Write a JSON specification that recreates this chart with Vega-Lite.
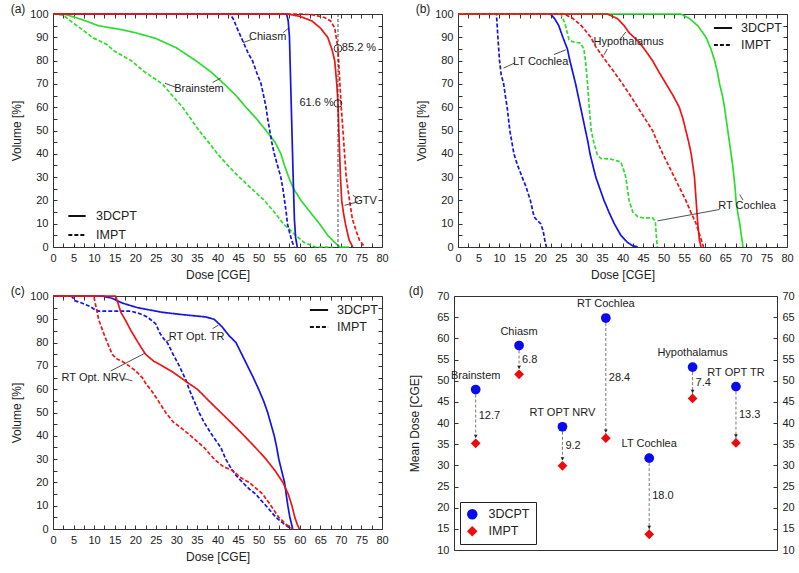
{
"$schema":"https://vega.github.io/schema/vega-lite/v6.json",
"padding":{"left":10,"top":2,"right":2,"bottom":2},
"background":"white",
"config":{
 "font":"Liberation Sans",
 "view":{"stroke":"#333","strokeWidth":1},
 "axis":{"domain":false,"grid":false,"tickSize":4,"offset":-4,"tickColor":"#333","tickWidth":1,"labelFontSize":11,"labelColor":"#222","titleFontSize":12,"titleFontWeight":"normal","titleColor":"#222","labelPadding":5,"titlePadding":6,"labelFlush":false},
 "title":{"anchor":"start","frame":"bounds","fontSize":12,"fontWeight":"normal","baseline":"middle","offset":0,"dy":12,"color":"#222"},
 "legend":{"labelColor":"#222","labelFontSize":12.5,"title":null},
 "text":{"fontSize":11,"color":"#222"}
},
"resolve":{"scale":{"color":"independent","strokeDash":"independent","shape":"independent"},"legend":{"color":"independent","strokeDash":"independent","shape":"independent"}},
"datasets":{
"a":[
{"organ":"Brainstem","plan":"3DCPT","dose":0,"vol":100},{"organ":"Brainstem","plan":"3DCPT","dose":3,"vol":99.8},{"organ":"Brainstem","plan":"3DCPT","dose":5.5,"vol":98.5},{"organ":"Brainstem","plan":"3DCPT","dose":8,"vol":97},{"organ":"Brainstem","plan":"3DCPT","dose":11,"vol":95},{"organ":"Brainstem","plan":"3DCPT","dose":16,"vol":93.5},{"organ":"Brainstem","plan":"3DCPT","dose":20,"vol":92},{"organ":"Brainstem","plan":"3DCPT","dose":25,"vol":89.5},{"organ":"Brainstem","plan":"3DCPT","dose":30,"vol":85.5},{"organ":"Brainstem","plan":"3DCPT","dose":34.7,"vol":80},{"organ":"Brainstem","plan":"3DCPT","dose":38.5,"vol":75},{"organ":"Brainstem","plan":"3DCPT","dose":41.6,"vol":70},{"organ":"Brainstem","plan":"3DCPT","dose":44.5,"vol":65},{"organ":"Brainstem","plan":"3DCPT","dose":46.9,"vol":60},{"organ":"Brainstem","plan":"3DCPT","dose":49.5,"vol":55},{"organ":"Brainstem","plan":"3DCPT","dose":51.8,"vol":50},{"organ":"Brainstem","plan":"3DCPT","dose":54,"vol":45},{"organ":"Brainstem","plan":"3DCPT","dose":55.4,"vol":40},{"organ":"Brainstem","plan":"3DCPT","dose":56.3,"vol":35},{"organ":"Brainstem","plan":"3DCPT","dose":57.3,"vol":30},{"organ":"Brainstem","plan":"3DCPT","dose":58.5,"vol":25},{"organ":"Brainstem","plan":"3DCPT","dose":60.3,"vol":20},{"organ":"Brainstem","plan":"3DCPT","dose":62.5,"vol":15},{"organ":"Brainstem","plan":"3DCPT","dose":64.8,"vol":10},{"organ":"Brainstem","plan":"3DCPT","dose":66.8,"vol":5},{"organ":"Brainstem","plan":"3DCPT","dose":68.5,"vol":2},{"organ":"Brainstem","plan":"3DCPT","dose":69.7,"vol":0},{"organ":"Brainstem","plan":"3DCPT","dose":72,"vol":0},
{"organ":"Brainstem","plan":"IMPT","dose":0,"vol":100},{"organ":"Brainstem","plan":"IMPT","dose":2.5,"vol":99.5},{"organ":"Brainstem","plan":"IMPT","dose":5,"vol":96},{"organ":"Brainstem","plan":"IMPT","dose":7,"vol":93.5},{"organ":"Brainstem","plan":"IMPT","dose":9.5,"vol":90},{"organ":"Brainstem","plan":"IMPT","dose":13,"vol":87},{"organ":"Brainstem","plan":"IMPT","dose":15,"vol":84},{"organ":"Brainstem","plan":"IMPT","dose":19,"vol":80},{"organ":"Brainstem","plan":"IMPT","dose":22,"vol":75.5},{"organ":"Brainstem","plan":"IMPT","dose":26.6,"vol":70},{"organ":"Brainstem","plan":"IMPT","dose":29,"vol":65},{"organ":"Brainstem","plan":"IMPT","dose":31.5,"vol":60},{"organ":"Brainstem","plan":"IMPT","dose":33.5,"vol":55},{"organ":"Brainstem","plan":"IMPT","dose":35.5,"vol":50},{"organ":"Brainstem","plan":"IMPT","dose":37.8,"vol":45},{"organ":"Brainstem","plan":"IMPT","dose":40,"vol":40},{"organ":"Brainstem","plan":"IMPT","dose":42.5,"vol":35},{"organ":"Brainstem","plan":"IMPT","dose":45.3,"vol":30},{"organ":"Brainstem","plan":"IMPT","dose":48.3,"vol":25},{"organ":"Brainstem","plan":"IMPT","dose":51.4,"vol":20},{"organ":"Brainstem","plan":"IMPT","dose":53.8,"vol":15},{"organ":"Brainstem","plan":"IMPT","dose":56,"vol":10},{"organ":"Brainstem","plan":"IMPT","dose":59,"vol":5},{"organ":"Brainstem","plan":"IMPT","dose":61,"vol":2},{"organ":"Brainstem","plan":"IMPT","dose":63,"vol":0.5},{"organ":"Brainstem","plan":"IMPT","dose":64,"vol":0},{"organ":"Brainstem","plan":"IMPT","dose":68,"vol":0},
{"organ":"Chiasm","plan":"3DCPT","dose":0,"vol":100},{"organ":"Chiasm","plan":"3DCPT","dose":56.8,"vol":100},{"organ":"Chiasm","plan":"3DCPT","dose":57.2,"vol":97},{"organ":"Chiasm","plan":"3DCPT","dose":57.5,"vol":90},{"organ":"Chiasm","plan":"3DCPT","dose":57.8,"vol":70},{"organ":"Chiasm","plan":"3DCPT","dose":58.1,"vol":50},{"organ":"Chiasm","plan":"3DCPT","dose":58.4,"vol":30},{"organ":"Chiasm","plan":"3DCPT","dose":58.7,"vol":12},{"organ":"Chiasm","plan":"3DCPT","dose":59,"vol":4},{"organ":"Chiasm","plan":"3DCPT","dose":59.4,"vol":0},
{"organ":"Chiasm","plan":"IMPT","dose":0,"vol":100},{"organ":"Chiasm","plan":"IMPT","dose":43,"vol":100},{"organ":"Chiasm","plan":"IMPT","dose":43.8,"vol":98},{"organ":"Chiasm","plan":"IMPT","dose":45,"vol":93},{"organ":"Chiasm","plan":"IMPT","dose":46,"vol":89},{"organ":"Chiasm","plan":"IMPT","dose":47.5,"vol":83},{"organ":"Chiasm","plan":"IMPT","dose":48.5,"vol":80},{"organ":"Chiasm","plan":"IMPT","dose":49.5,"vol":75},{"organ":"Chiasm","plan":"IMPT","dose":50.6,"vol":70},{"organ":"Chiasm","plan":"IMPT","dose":51.2,"vol":65},{"organ":"Chiasm","plan":"IMPT","dose":51.8,"vol":60},{"organ":"Chiasm","plan":"IMPT","dose":52.2,"vol":55},{"organ":"Chiasm","plan":"IMPT","dose":52.7,"vol":50},{"organ":"Chiasm","plan":"IMPT","dose":53.2,"vol":45},{"organ":"Chiasm","plan":"IMPT","dose":53.8,"vol":40},{"organ":"Chiasm","plan":"IMPT","dose":54.6,"vol":35},{"organ":"Chiasm","plan":"IMPT","dose":55.4,"vol":30},{"organ":"Chiasm","plan":"IMPT","dose":55.9,"vol":25},{"organ":"Chiasm","plan":"IMPT","dose":56.3,"vol":20},{"organ":"Chiasm","plan":"IMPT","dose":56.7,"vol":15},{"organ":"Chiasm","plan":"IMPT","dose":57,"vol":10},{"organ":"Chiasm","plan":"IMPT","dose":57.7,"vol":5},{"organ":"Chiasm","plan":"IMPT","dose":58.2,"vol":2},{"organ":"Chiasm","plan":"IMPT","dose":58.7,"vol":0},
{"organ":"GTV","plan":"3DCPT","dose":0,"vol":100},{"organ":"GTV","plan":"3DCPT","dose":57,"vol":100},{"organ":"GTV","plan":"3DCPT","dose":60,"vol":99},{"organ":"GTV","plan":"3DCPT","dose":63,"vol":97},{"organ":"GTV","plan":"3DCPT","dose":65,"vol":94},{"organ":"GTV","plan":"3DCPT","dose":66.8,"vol":90},{"organ":"GTV","plan":"3DCPT","dose":67.8,"vol":85},{"organ":"GTV","plan":"3DCPT","dose":68.5,"vol":80},{"organ":"GTV","plan":"3DCPT","dose":69,"vol":70},{"organ":"GTV","plan":"3DCPT","dose":69.3,"vol":61.6},{"organ":"GTV","plan":"3DCPT","dose":69.5,"vol":50},{"organ":"GTV","plan":"3DCPT","dose":69.7,"vol":40},{"organ":"GTV","plan":"3DCPT","dose":69.9,"vol":30},{"organ":"GTV","plan":"3DCPT","dose":70.2,"vol":20},{"organ":"GTV","plan":"3DCPT","dose":70.6,"vol":15},{"organ":"GTV","plan":"3DCPT","dose":71.1,"vol":10},{"organ":"GTV","plan":"3DCPT","dose":72,"vol":3},{"organ":"GTV","plan":"3DCPT","dose":72.9,"vol":0},
{"organ":"GTV","plan":"IMPT","dose":0,"vol":100},{"organ":"GTV","plan":"IMPT","dose":60,"vol":100},{"organ":"GTV","plan":"IMPT","dose":63,"vol":99.7},{"organ":"GTV","plan":"IMPT","dose":66,"vol":98.5},{"organ":"GTV","plan":"IMPT","dose":67.5,"vol":97},{"organ":"GTV","plan":"IMPT","dose":68.5,"vol":94},{"organ":"GTV","plan":"IMPT","dose":69.3,"vol":85.2},{"organ":"GTV","plan":"IMPT","dose":69.6,"vol":75},{"organ":"GTV","plan":"IMPT","dose":70.1,"vol":60},{"organ":"GTV","plan":"IMPT","dose":70.5,"vol":50},{"organ":"GTV","plan":"IMPT","dose":70.9,"vol":40},{"organ":"GTV","plan":"IMPT","dose":71.3,"vol":30},{"organ":"GTV","plan":"IMPT","dose":72.1,"vol":20},{"organ":"GTV","plan":"IMPT","dose":72.8,"vol":12},{"organ":"GTV","plan":"IMPT","dose":73.7,"vol":7},{"organ":"GTV","plan":"IMPT","dose":74.5,"vol":3},{"organ":"GTV","plan":"IMPT","dose":75.8,"vol":0}
],
"a_txt":[{"t":"Chiasm","x":52.2,"y":90},{"t":"Brainstem","x":35.5,"y":67.7},{"t":"GTV","x":76,"y":19.7},{"t":"85.2 %","x":74.4,"y":85.2},{"t":"61.6 %","x":64.1,"y":61.6}],
"a_arr":[{"x":48.2,"y":89,"x2":46.2,"y2":87.7},{"x":56,"y":92,"x2":57.3,"y2":94},{"x":29.8,"y":68.6,"x2":27.2,"y2":70.3},{"x":38.8,"y":70.6,"x2":40.8,"y2":72.5},{"x":74.2,"y":20.8,"x2":72.9,"y2":22.2},{"x":74.2,"y":19.4,"x2":70.9,"y2":17.9}],
"a_pt":[{"x":69.3,"y":85.2},{"x":69.3,"y":61.6}],
"b":[
{"organ":"LT Cochlea","plan":"3DCPT","dose":0,"vol":100},{"organ":"LT Cochlea","plan":"3DCPT","dose":22.5,"vol":100},{"organ":"LT Cochlea","plan":"3DCPT","dose":23.5,"vol":98},{"organ":"LT Cochlea","plan":"3DCPT","dose":24.5,"vol":95},{"organ":"LT Cochlea","plan":"3DCPT","dose":25.5,"vol":90},{"organ":"LT Cochlea","plan":"3DCPT","dose":26.6,"vol":85},{"organ":"LT Cochlea","plan":"3DCPT","dose":27.2,"vol":80},{"organ":"LT Cochlea","plan":"3DCPT","dose":27.9,"vol":75},{"organ":"LT Cochlea","plan":"3DCPT","dose":28.6,"vol":70},{"organ":"LT Cochlea","plan":"3DCPT","dose":29.2,"vol":65},{"organ":"LT Cochlea","plan":"3DCPT","dose":29.8,"vol":60},{"organ":"LT Cochlea","plan":"3DCPT","dose":30.4,"vol":55},{"organ":"LT Cochlea","plan":"3DCPT","dose":31,"vol":50},{"organ":"LT Cochlea","plan":"3DCPT","dose":31.6,"vol":45},{"organ":"LT Cochlea","plan":"3DCPT","dose":32.1,"vol":40},{"organ":"LT Cochlea","plan":"3DCPT","dose":32.8,"vol":35},{"organ":"LT Cochlea","plan":"3DCPT","dose":33.5,"vol":30},{"organ":"LT Cochlea","plan":"3DCPT","dose":34.5,"vol":25},{"organ":"LT Cochlea","plan":"3DCPT","dose":35.5,"vol":20},{"organ":"LT Cochlea","plan":"3DCPT","dose":36.7,"vol":15},{"organ":"LT Cochlea","plan":"3DCPT","dose":38,"vol":10},{"organ":"LT Cochlea","plan":"3DCPT","dose":39.6,"vol":5},{"organ":"LT Cochlea","plan":"3DCPT","dose":41.2,"vol":2},{"organ":"LT Cochlea","plan":"3DCPT","dose":42.5,"vol":0.5},{"organ":"LT Cochlea","plan":"3DCPT","dose":43.7,"vol":0},
{"organ":"LT Cochlea","plan":"IMPT","dose":0,"vol":100},{"organ":"LT Cochlea","plan":"IMPT","dose":9.35,"vol":100},{"organ":"LT Cochlea","plan":"IMPT","dose":9.7,"vol":90},{"organ":"LT Cochlea","plan":"IMPT","dose":10.1,"vol":80},{"organ":"LT Cochlea","plan":"IMPT","dose":10.5,"vol":74},{"organ":"LT Cochlea","plan":"IMPT","dose":11.1,"vol":70},{"organ":"LT Cochlea","plan":"IMPT","dose":11.5,"vol":65},{"organ":"LT Cochlea","plan":"IMPT","dose":11.95,"vol":60},{"organ":"LT Cochlea","plan":"IMPT","dose":12.6,"vol":50},{"organ":"LT Cochlea","plan":"IMPT","dose":13.6,"vol":40},{"organ":"LT Cochlea","plan":"IMPT","dose":14.5,"vol":35},{"organ":"LT Cochlea","plan":"IMPT","dose":15.6,"vol":30},{"organ":"LT Cochlea","plan":"IMPT","dose":16.5,"vol":26},{"organ":"LT Cochlea","plan":"IMPT","dose":17.6,"vol":20},{"organ":"LT Cochlea","plan":"IMPT","dose":18.5,"vol":13},{"organ":"LT Cochlea","plan":"IMPT","dose":19.2,"vol":11.5},{"organ":"LT Cochlea","plan":"IMPT","dose":20.1,"vol":10},{"organ":"LT Cochlea","plan":"IMPT","dose":20.7,"vol":7},{"organ":"LT Cochlea","plan":"IMPT","dose":21.1,"vol":3},{"organ":"LT Cochlea","plan":"IMPT","dose":21.5,"vol":0},
{"organ":"RT Cochlea","plan":"3DCPT","dose":0,"vol":100},{"organ":"RT Cochlea","plan":"3DCPT","dose":54.2,"vol":100},{"organ":"RT Cochlea","plan":"3DCPT","dose":56.3,"vol":98},{"organ":"RT Cochlea","plan":"3DCPT","dose":58.3,"vol":95},{"organ":"RT Cochlea","plan":"3DCPT","dose":60.3,"vol":90},{"organ":"RT Cochlea","plan":"3DCPT","dose":61.5,"vol":85},{"organ":"RT Cochlea","plan":"3DCPT","dose":62.4,"vol":80},{"organ":"RT Cochlea","plan":"3DCPT","dose":63.1,"vol":75},{"organ":"RT Cochlea","plan":"3DCPT","dose":63.6,"vol":70},{"organ":"RT Cochlea","plan":"3DCPT","dose":64.3,"vol":65},{"organ":"RT Cochlea","plan":"3DCPT","dose":64.8,"vol":60},{"organ":"RT Cochlea","plan":"3DCPT","dose":65.2,"vol":55},{"organ":"RT Cochlea","plan":"3DCPT","dose":65.6,"vol":50},{"organ":"RT Cochlea","plan":"3DCPT","dose":66,"vol":45},{"organ":"RT Cochlea","plan":"3DCPT","dose":66.4,"vol":40},{"organ":"RT Cochlea","plan":"3DCPT","dose":66.8,"vol":35},{"organ":"RT Cochlea","plan":"3DCPT","dose":67.1,"vol":30},{"organ":"RT Cochlea","plan":"3DCPT","dose":67.4,"vol":25},{"organ":"RT Cochlea","plan":"3DCPT","dose":67.6,"vol":20},{"organ":"RT Cochlea","plan":"3DCPT","dose":68,"vol":15},{"organ":"RT Cochlea","plan":"3DCPT","dose":68.5,"vol":10},{"organ":"RT Cochlea","plan":"3DCPT","dose":68.9,"vol":5},{"organ":"RT Cochlea","plan":"3DCPT","dose":69.3,"vol":0},
{"organ":"RT Cochlea","plan":"IMPT","dose":0,"vol":100},{"organ":"RT Cochlea","plan":"IMPT","dose":25,"vol":100},{"organ":"RT Cochlea","plan":"IMPT","dose":26,"vol":96},{"organ":"RT Cochlea","plan":"IMPT","dose":27,"vol":89},{"organ":"RT Cochlea","plan":"IMPT","dose":28,"vol":88},{"organ":"RT Cochlea","plan":"IMPT","dose":29.8,"vol":87.5},{"organ":"RT Cochlea","plan":"IMPT","dose":30.6,"vol":85},{"organ":"RT Cochlea","plan":"IMPT","dose":31,"vol":80},{"organ":"RT Cochlea","plan":"IMPT","dose":31.5,"vol":70},{"organ":"RT Cochlea","plan":"IMPT","dose":31.9,"vol":60},{"organ":"RT Cochlea","plan":"IMPT","dose":32.4,"vol":50},{"organ":"RT Cochlea","plan":"IMPT","dose":33,"vol":45},{"organ":"RT Cochlea","plan":"IMPT","dose":33.8,"vol":40},{"organ":"RT Cochlea","plan":"IMPT","dose":34.7,"vol":38},{"organ":"RT Cochlea","plan":"IMPT","dose":37,"vol":37.8},{"organ":"RT Cochlea","plan":"IMPT","dose":39.6,"vol":36.5},{"organ":"RT Cochlea","plan":"IMPT","dose":40.3,"vol":33},{"organ":"RT Cochlea","plan":"IMPT","dose":40.8,"vol":30},{"organ":"RT Cochlea","plan":"IMPT","dose":41.2,"vol":25},{"organ":"RT Cochlea","plan":"IMPT","dose":41.6,"vol":20},{"organ":"RT Cochlea","plan":"IMPT","dose":42.5,"vol":15},{"organ":"RT Cochlea","plan":"IMPT","dose":43.7,"vol":13},{"organ":"RT Cochlea","plan":"IMPT","dose":45,"vol":12.5},{"organ":"RT Cochlea","plan":"IMPT","dose":47.3,"vol":12.5},{"organ":"RT Cochlea","plan":"IMPT","dose":48,"vol":11},{"organ":"RT Cochlea","plan":"IMPT","dose":48.1,"vol":8},{"organ":"RT Cochlea","plan":"IMPT","dose":48.3,"vol":3},{"organ":"RT Cochlea","plan":"IMPT","dose":48.5,"vol":0},
{"organ":"Hypothalamus","plan":"3DCPT","dose":0,"vol":100},{"organ":"Hypothalamus","plan":"3DCPT","dose":36.3,"vol":100},{"organ":"Hypothalamus","plan":"3DCPT","dose":38.8,"vol":98},{"organ":"Hypothalamus","plan":"3DCPT","dose":40.4,"vol":95},{"organ":"Hypothalamus","plan":"3DCPT","dose":41.6,"vol":92},{"organ":"Hypothalamus","plan":"3DCPT","dose":42.8,"vol":90},{"organ":"Hypothalamus","plan":"3DCPT","dose":44,"vol":88},{"organ":"Hypothalamus","plan":"3DCPT","dose":45.3,"vol":85},{"organ":"Hypothalamus","plan":"3DCPT","dose":47.3,"vol":80},{"organ":"Hypothalamus","plan":"3DCPT","dose":48.9,"vol":75},{"organ":"Hypothalamus","plan":"3DCPT","dose":50.6,"vol":70},{"organ":"Hypothalamus","plan":"3DCPT","dose":52.3,"vol":65},{"organ":"Hypothalamus","plan":"3DCPT","dose":53.8,"vol":60},{"organ":"Hypothalamus","plan":"3DCPT","dose":54.7,"vol":55},{"organ":"Hypothalamus","plan":"3DCPT","dose":55.4,"vol":50},{"organ":"Hypothalamus","plan":"3DCPT","dose":56.1,"vol":45},{"organ":"Hypothalamus","plan":"3DCPT","dose":56.7,"vol":40},{"organ":"Hypothalamus","plan":"3DCPT","dose":57.1,"vol":35},{"organ":"Hypothalamus","plan":"3DCPT","dose":57.5,"vol":30},{"organ":"Hypothalamus","plan":"3DCPT","dose":57.7,"vol":25},{"organ":"Hypothalamus","plan":"3DCPT","dose":57.9,"vol":20},{"organ":"Hypothalamus","plan":"3DCPT","dose":58.1,"vol":15},{"organ":"Hypothalamus","plan":"3DCPT","dose":58.3,"vol":10},{"organ":"Hypothalamus","plan":"3DCPT","dose":58.7,"vol":3},{"organ":"Hypothalamus","plan":"3DCPT","dose":59.1,"vol":0},
{"organ":"Hypothalamus","plan":"IMPT","dose":0,"vol":100},{"organ":"Hypothalamus","plan":"IMPT","dose":25.8,"vol":100},{"organ":"Hypothalamus","plan":"IMPT","dose":28,"vol":98},{"organ":"Hypothalamus","plan":"IMPT","dose":30,"vol":95},{"organ":"Hypothalamus","plan":"IMPT","dose":32.3,"vol":90},{"organ":"Hypothalamus","plan":"IMPT","dose":33.5,"vol":86},{"organ":"Hypothalamus","plan":"IMPT","dose":35.9,"vol":80},{"organ":"Hypothalamus","plan":"IMPT","dose":38,"vol":75},{"organ":"Hypothalamus","plan":"IMPT","dose":40,"vol":70},{"organ":"Hypothalamus","plan":"IMPT","dose":41.9,"vol":65},{"organ":"Hypothalamus","plan":"IMPT","dose":43.7,"vol":60},{"organ":"Hypothalamus","plan":"IMPT","dose":45.5,"vol":55},{"organ":"Hypothalamus","plan":"IMPT","dose":47.3,"vol":50},{"organ":"Hypothalamus","plan":"IMPT","dose":48.5,"vol":45},{"organ":"Hypothalamus","plan":"IMPT","dose":49.8,"vol":40},{"organ":"Hypothalamus","plan":"IMPT","dose":51.2,"vol":35},{"organ":"Hypothalamus","plan":"IMPT","dose":52.6,"vol":30},{"organ":"Hypothalamus","plan":"IMPT","dose":54,"vol":25},{"organ":"Hypothalamus","plan":"IMPT","dose":55.4,"vol":20},{"organ":"Hypothalamus","plan":"IMPT","dose":56.6,"vol":15},{"organ":"Hypothalamus","plan":"IMPT","dose":57.9,"vol":10},{"organ":"Hypothalamus","plan":"IMPT","dose":58.8,"vol":5},{"organ":"Hypothalamus","plan":"IMPT","dose":59.7,"vol":0}
],
"b_txt":[{"t":"LT Cochlea","x":20.1,"y":79.6},{"t":"Hypothalamus","x":41.5,"y":87.8},{"t":"RT Cochlea","x":70.3,"y":17.6}],
"b_arr":[{"x":13.8,"y":79,"x2":11.1,"y2":76.8},{"x":23.3,"y":82.6,"x2":26.2,"y2":84.6},{"x":36.3,"y":85,"x2":35.5,"y2":82.5},{"x":39.6,"y":89.5,"x2":40.8,"y2":92.3},{"x":63.6,"y":16.1,"x2":48.5,"y2":11.2},{"x":69.3,"y":20.1,"x2":68.5,"y2":22.5}],
"c":[
{"organ":"RT Opt. TR","plan":"3DCPT","dose":0,"vol":100},{"organ":"RT Opt. TR","plan":"3DCPT","dose":12,"vol":100},{"organ":"RT Opt. TR","plan":"3DCPT","dose":14.4,"vol":99},{"organ":"RT Opt. TR","plan":"3DCPT","dose":16.8,"vol":97},{"organ":"RT Opt. TR","plan":"3DCPT","dose":20.5,"vol":95},{"organ":"RT Opt. TR","plan":"3DCPT","dose":26.6,"vol":93},{"organ":"RT Opt. TR","plan":"3DCPT","dose":31.5,"vol":92},{"organ":"RT Opt. TR","plan":"3DCPT","dose":37.2,"vol":91},{"organ":"RT Opt. TR","plan":"3DCPT","dose":39.2,"vol":90},{"organ":"RT Opt. TR","plan":"3DCPT","dose":41,"vol":87},{"organ":"RT Opt. TR","plan":"3DCPT","dose":42.8,"vol":83},{"organ":"RT Opt. TR","plan":"3DCPT","dose":44.5,"vol":80},{"organ":"RT Opt. TR","plan":"3DCPT","dose":45.9,"vol":75},{"organ":"RT Opt. TR","plan":"3DCPT","dose":47.3,"vol":70},{"organ":"RT Opt. TR","plan":"3DCPT","dose":48.7,"vol":65},{"organ":"RT Opt. TR","plan":"3DCPT","dose":50,"vol":60},{"organ":"RT Opt. TR","plan":"3DCPT","dose":51.2,"vol":55},{"organ":"RT Opt. TR","plan":"3DCPT","dose":52.2,"vol":50},{"organ":"RT Opt. TR","plan":"3DCPT","dose":53,"vol":45},{"organ":"RT Opt. TR","plan":"3DCPT","dose":53.8,"vol":40},{"organ":"RT Opt. TR","plan":"3DCPT","dose":54.4,"vol":35},{"organ":"RT Opt. TR","plan":"3DCPT","dose":54.9,"vol":30},{"organ":"RT Opt. TR","plan":"3DCPT","dose":55.6,"vol":25},{"organ":"RT Opt. TR","plan":"3DCPT","dose":56.3,"vol":20},{"organ":"RT Opt. TR","plan":"3DCPT","dose":56.7,"vol":15},{"organ":"RT Opt. TR","plan":"3DCPT","dose":57.1,"vol":10},{"organ":"RT Opt. TR","plan":"3DCPT","dose":57.6,"vol":5},{"organ":"RT Opt. TR","plan":"3DCPT","dose":58.3,"vol":0},
{"organ":"RT Opt. TR","plan":"IMPT","dose":0,"vol":100},{"organ":"RT Opt. TR","plan":"IMPT","dose":4.5,"vol":100},{"organ":"RT Opt. TR","plan":"IMPT","dose":5.3,"vol":98},{"organ":"RT Opt. TR","plan":"IMPT","dose":7,"vol":97},{"organ":"RT Opt. TR","plan":"IMPT","dose":9,"vol":95.5},{"organ":"RT Opt. TR","plan":"IMPT","dose":10.3,"vol":94},{"organ":"RT Opt. TR","plan":"IMPT","dose":11.1,"vol":93.5},{"organ":"RT Opt. TR","plan":"IMPT","dose":15,"vol":93.5},{"organ":"RT Opt. TR","plan":"IMPT","dose":18.9,"vol":93.5},{"organ":"RT Opt. TR","plan":"IMPT","dose":21,"vol":92.5},{"organ":"RT Opt. TR","plan":"IMPT","dose":22.9,"vol":91},{"organ":"RT Opt. TR","plan":"IMPT","dose":24,"vol":89.5},{"organ":"RT Opt. TR","plan":"IMPT","dose":25,"vol":88},{"organ":"RT Opt. TR","plan":"IMPT","dose":26,"vol":84},{"organ":"RT Opt. TR","plan":"IMPT","dose":27,"vol":81.5},{"organ":"RT Opt. TR","plan":"IMPT","dose":27.8,"vol":80},{"organ":"RT Opt. TR","plan":"IMPT","dose":29.2,"vol":75},{"organ":"RT Opt. TR","plan":"IMPT","dose":30.7,"vol":70},{"organ":"RT Opt. TR","plan":"IMPT","dose":31.5,"vol":67},{"organ":"RT Opt. TR","plan":"IMPT","dose":32.3,"vol":64},{"organ":"RT Opt. TR","plan":"IMPT","dose":33.1,"vol":60},{"organ":"RT Opt. TR","plan":"IMPT","dose":34.3,"vol":55},{"organ":"RT Opt. TR","plan":"IMPT","dose":35.5,"vol":50},{"organ":"RT Opt. TR","plan":"IMPT","dose":37,"vol":45},{"organ":"RT Opt. TR","plan":"IMPT","dose":38.8,"vol":40},{"organ":"RT Opt. TR","plan":"IMPT","dose":40.8,"vol":35},{"organ":"RT Opt. TR","plan":"IMPT","dose":42,"vol":30},{"organ":"RT Opt. TR","plan":"IMPT","dose":43.3,"vol":26},{"organ":"RT Opt. TR","plan":"IMPT","dose":44.5,"vol":23},{"organ":"RT Opt. TR","plan":"IMPT","dose":46.1,"vol":20},{"organ":"RT Opt. TR","plan":"IMPT","dose":47.8,"vol":17},{"organ":"RT Opt. TR","plan":"IMPT","dose":49.3,"vol":15},{"organ":"RT Opt. TR","plan":"IMPT","dose":50.5,"vol":12.5},{"organ":"RT Opt. TR","plan":"IMPT","dose":51.8,"vol":10},{"organ":"RT Opt. TR","plan":"IMPT","dose":53,"vol":7.5},{"organ":"RT Opt. TR","plan":"IMPT","dose":54.2,"vol":5},{"organ":"RT Opt. TR","plan":"IMPT","dose":56.3,"vol":2},{"organ":"RT Opt. TR","plan":"IMPT","dose":57.9,"vol":0},
{"organ":"RT Opt. NRV","plan":"3DCPT","dose":0,"vol":100},{"organ":"RT Opt. NRV","plan":"3DCPT","dose":15.2,"vol":100},{"organ":"RT Opt. NRV","plan":"3DCPT","dose":15.8,"vol":97},{"organ":"RT Opt. NRV","plan":"3DCPT","dose":16.5,"vol":93},{"organ":"RT Opt. NRV","plan":"3DCPT","dose":17.5,"vol":90},{"organ":"RT Opt. NRV","plan":"3DCPT","dose":19,"vol":85},{"organ":"RT Opt. NRV","plan":"3DCPT","dose":20.7,"vol":80},{"organ":"RT Opt. NRV","plan":"3DCPT","dose":22.5,"vol":75},{"organ":"RT Opt. NRV","plan":"3DCPT","dose":24.5,"vol":72},{"organ":"RT Opt. NRV","plan":"3DCPT","dose":26.6,"vol":70},{"organ":"RT Opt. NRV","plan":"3DCPT","dose":29,"vol":67.5},{"organ":"RT Opt. NRV","plan":"3DCPT","dose":31,"vol":65},{"organ":"RT Opt. NRV","plan":"3DCPT","dose":33,"vol":62.5},{"organ":"RT Opt. NRV","plan":"3DCPT","dose":35.1,"vol":60},{"organ":"RT Opt. NRV","plan":"3DCPT","dose":37.9,"vol":55},{"organ":"RT Opt. NRV","plan":"3DCPT","dose":40.8,"vol":50},{"organ":"RT Opt. NRV","plan":"3DCPT","dose":43.7,"vol":45},{"organ":"RT Opt. NRV","plan":"3DCPT","dose":46.5,"vol":40},{"organ":"RT Opt. NRV","plan":"3DCPT","dose":49.2,"vol":35},{"organ":"RT Opt. NRV","plan":"3DCPT","dose":51.8,"vol":30},{"organ":"RT Opt. NRV","plan":"3DCPT","dose":54,"vol":25},{"organ":"RT Opt. NRV","plan":"3DCPT","dose":55.9,"vol":20},{"organ":"RT Opt. NRV","plan":"3DCPT","dose":57.2,"vol":15},{"organ":"RT Opt. NRV","plan":"3DCPT","dose":58.1,"vol":10},{"organ":"RT Opt. NRV","plan":"3DCPT","dose":58.8,"vol":5},{"organ":"RT Opt. NRV","plan":"3DCPT","dose":59.4,"vol":2},{"organ":"RT Opt. NRV","plan":"3DCPT","dose":59.9,"vol":0},
{"organ":"RT Opt. NRV","plan":"IMPT","dose":0,"vol":100},{"organ":"RT Opt. NRV","plan":"IMPT","dose":9.9,"vol":100},{"organ":"RT Opt. NRV","plan":"IMPT","dose":10.5,"vol":95},{"organ":"RT Opt. NRV","plan":"IMPT","dose":11.1,"vol":90},{"organ":"RT Opt. NRV","plan":"IMPT","dose":12.1,"vol":85},{"organ":"RT Opt. NRV","plan":"IMPT","dose":13.2,"vol":80},{"organ":"RT Opt. NRV","plan":"IMPT","dose":14.4,"vol":75},{"organ":"RT Opt. NRV","plan":"IMPT","dose":15.5,"vol":73},{"organ":"RT Opt. NRV","plan":"IMPT","dose":16.8,"vol":72},{"organ":"RT Opt. NRV","plan":"IMPT","dose":18.5,"vol":70},{"organ":"RT Opt. NRV","plan":"IMPT","dose":20,"vol":68},{"organ":"RT Opt. NRV","plan":"IMPT","dose":21.7,"vol":65},{"organ":"RT Opt. NRV","plan":"IMPT","dose":22.7,"vol":62},{"organ":"RT Opt. NRV","plan":"IMPT","dose":23.7,"vol":60},{"organ":"RT Opt. NRV","plan":"IMPT","dose":25.6,"vol":55},{"organ":"RT Opt. NRV","plan":"IMPT","dose":27.4,"vol":50},{"organ":"RT Opt. NRV","plan":"IMPT","dose":29.2,"vol":46},{"organ":"RT Opt. NRV","plan":"IMPT","dose":30.7,"vol":44},{"organ":"RT Opt. NRV","plan":"IMPT","dose":33.5,"vol":40},{"organ":"RT Opt. NRV","plan":"IMPT","dose":36.7,"vol":35},{"organ":"RT Opt. NRV","plan":"IMPT","dose":39.2,"vol":30},{"organ":"RT Opt. NRV","plan":"IMPT","dose":41.2,"vol":27},{"organ":"RT Opt. NRV","plan":"IMPT","dose":43.7,"vol":25},{"organ":"RT Opt. NRV","plan":"IMPT","dose":45.7,"vol":22},{"organ":"RT Opt. NRV","plan":"IMPT","dose":47.7,"vol":20},{"organ":"RT Opt. NRV","plan":"IMPT","dose":51,"vol":15},{"organ":"RT Opt. NRV","plan":"IMPT","dose":53,"vol":10},{"organ":"RT Opt. NRV","plan":"IMPT","dose":54.9,"vol":5},{"organ":"RT Opt. NRV","plan":"IMPT","dose":56.7,"vol":2},{"organ":"RT Opt. NRV","plan":"IMPT","dose":58.3,"vol":0}
],
"c_txt":[{"t":"RT Opt. TR","x":34.9,"y":82.5},{"t":"RT Opt. NRV","x":9.9,"y":64.6}],
"c_arr":[{"x":28.6,"y":81.2,"x2":27.4,"y2":80.5},{"x":38.8,"y":86,"x2":40.2,"y2":87.5},{"x":14,"y":67.8,"x2":22.3,"y2":75.4},{"x":17,"y":64.6,"x2":19.3,"y2":63.6}],
"d":[
{"organ":"Brainstem","idx":0.5,"3DCPT":47.9,"IMPT":35.2,"diff":"12.7"},
{"organ":"Chiasm","idx":1.5,"3DCPT":58.3,"IMPT":51.5,"diff":"6.8"},
{"organ":"RT OPT NRV","idx":2.5,"3DCPT":39.1,"IMPT":29.9,"diff":"9.2"},
{"organ":"RT Cochlea","idx":3.5,"3DCPT":64.8,"IMPT":36.4,"diff":"28.4"},
{"organ":"LT Cochlea","idx":4.5,"3DCPT":31.7,"IMPT":13.7,"diff":"18.0"},
{"organ":"Hypothalamus","idx":5.5,"3DCPT":53.2,"IMPT":45.8,"diff":"7.4"},
{"organ":"RT OPT TR","idx":6.5,"3DCPT":48.6,"IMPT":35.3,"diff":"13.3"}
]
},
"vconcat":[
{"hconcat":[
 {"width":329,"height":233,"title":{"text":"(a)"},
  "layer":[
   {"data":{"name":"a"},"mark":{"type":"line","strokeWidth":1.7},
    "encoding":{
     "x":{"field":"dose","type":"quantitative","scale":{"domain":[0,80],"nice":false},"axis":{"orient":"bottom","title":"Dose [CGE]","values":[0,2.5,5,7.5,10,12.5,15,17.5,20,22.5,25,27.5,30,32.5,35,37.5,40,42.5,45,47.5,50,52.5,55,57.5,60,62.5,65,67.5,70,72.5,75,77.5,80],"labelExpr":"datum.value % 5 === 0 ? datum.label : ''"}},
     "y":{"field":"vol","type":"quantitative","scale":{"domain":[0,100],"nice":false},"axis":{"orient":"left","title":"Volume [%]","values":[0,5,10,15,20,25,30,35,40,45,50,55,60,65,70,75,80,85,90,95,100],"labelExpr":"datum.value % 10 === 0 ? datum.label : ''"}},
     "color":{"field":"organ","type":"nominal","scale":{"domain":["Brainstem","Chiasm","GTV"],"range":["#2edc2e","#1414e6","#ee1515"]},"legend":null},
     "strokeDash":{"field":"plan","type":"nominal","scale":{"domain":["3DCPT","IMPT"],"range":[[1,0],[4,2]]},"legend":{"orient":"none","legendX":14,"legendY":192,"symbolType":"stroke","symbolStrokeColor":"#111","symbolStrokeWidth":1.8,"symbolSize":300,"rowPadding":2,"labelOffset":9}}
    }},
   {"data":{"values":[{"dose":69.3}]},"mark":{"type":"rule","strokeDash":[3,2],"color":"#222","strokeWidth":0.8},
    "encoding":{"x":{"field":"dose","type":"quantitative","scale":{"domain":[0,80],"nice":false},"axis":null}}},
   {"data":{"name":"a_arr"},"mark":{"type":"rule","color":"#222","strokeWidth":0.8},
    "encoding":{"x":{"field":"x","type":"quantitative","scale":{"domain":[0,80],"nice":false},"axis":null},"y":{"field":"y","type":"quantitative","scale":{"domain":[0,100],"nice":false},"axis":null},"x2":{"field":"x2"},"y2":{"field":"y2"}}},
   {"data":{"name":"a_pt"},"mark":{"type":"point","shape":"circle","filled":false,"color":"#222","size":60,"strokeWidth":0.9,"opacity":1},
    "encoding":{"x":{"field":"x","type":"quantitative","scale":{"domain":[0,80],"nice":false},"axis":null},"y":{"field":"y","type":"quantitative","scale":{"domain":[0,100],"nice":false},"axis":null}}},
   {"data":{"name":"a_txt"},"mark":{"type":"text"},
    "encoding":{"x":{"field":"x","type":"quantitative","scale":{"domain":[0,80],"nice":false},"axis":{"orient":"top","labels":false,"title":null,"values":[0,2.5,5,7.5,10,12.5,15,17.5,20,22.5,25,27.5,30,32.5,35,37.5,40,42.5,45,47.5,50,52.5,55,57.5,60,62.5,65,67.5,70,72.5,75,77.5,80]}},"y":{"field":"y","type":"quantitative","scale":{"domain":[0,100],"nice":false},"axis":{"orient":"right","labels":false,"title":null,"values":[0,5,10,15,20,25,30,35,40,45,50,55,60,65,70,75,80,85,90,95,100]}},"text":{"field":"t"}}}
  ]},
 {"width":329,"height":233,"title":{"text":"(b)"},
  "layer":[
   {"data":{"name":"b"},"mark":{"type":"line","strokeWidth":1.7},
    "encoding":{
     "x":{"field":"dose","type":"quantitative","scale":{"domain":[0,80],"nice":false},"axis":{"orient":"bottom","title":"Dose [CGE]","values":[0,2.5,5,7.5,10,12.5,15,17.5,20,22.5,25,27.5,30,32.5,35,37.5,40,42.5,45,47.5,50,52.5,55,57.5,60,62.5,65,67.5,70,72.5,75,77.5,80],"labelExpr":"datum.value % 5 === 0 ? datum.label : ''"}},
     "y":{"field":"vol","type":"quantitative","scale":{"domain":[0,100],"nice":false},"axis":{"orient":"left","title":"Volume [%]","values":[0,5,10,15,20,25,30,35,40,45,50,55,60,65,70,75,80,85,90,95,100],"labelExpr":"datum.value % 10 === 0 ? datum.label : ''"}},
     "color":{"field":"organ","type":"nominal","scale":{"domain":["LT Cochlea","RT Cochlea","Hypothalamus"],"range":["#1414e6","#2edc2e","#ee1515"]},"legend":null},
     "strokeDash":{"field":"plan","type":"nominal","scale":{"domain":["3DCPT","IMPT"],"range":[[1,0],[4,2]]},"legend":{"orient":"none","legendX":255,"legendY":4,"symbolType":"stroke","symbolStrokeColor":"#111","symbolStrokeWidth":1.8,"symbolSize":330,"rowPadding":0,"labelOffset":8}}
    }},
   {"data":{"name":"b_arr"},"mark":{"type":"rule","color":"#222","strokeWidth":0.8},
    "encoding":{"x":{"field":"x","type":"quantitative","scale":{"domain":[0,80],"nice":false},"axis":null},"y":{"field":"y","type":"quantitative","scale":{"domain":[0,100],"nice":false},"axis":null},"x2":{"field":"x2"},"y2":{"field":"y2"}}},
   {"data":{"name":"b_txt"},"mark":{"type":"text"},
    "encoding":{"x":{"field":"x","type":"quantitative","scale":{"domain":[0,80],"nice":false},"axis":{"orient":"top","labels":false,"title":null,"values":[0,2.5,5,7.5,10,12.5,15,17.5,20,22.5,25,27.5,30,32.5,35,37.5,40,42.5,45,47.5,50,52.5,55,57.5,60,62.5,65,67.5,70,72.5,75,77.5,80]}},"y":{"field":"y","type":"quantitative","scale":{"domain":[0,100],"nice":false},"axis":{"orient":"right","labels":false,"title":null,"values":[0,5,10,15,20,25,30,35,40,45,50,55,60,65,70,75,80,85,90,95,100]}},"text":{"field":"t"}}}
  ]}
 ],"spacing":26,
 "resolve":{"scale":{"color":"independent","strokeDash":"independent","shape":"independent"},"legend":{"color":"independent","strokeDash":"independent","shape":"independent"}}},
{"hconcat":[
 {"width":329,"height":233,"title":{"text":"(c)"},
  "layer":[
   {"data":{"name":"c"},"mark":{"type":"line","strokeWidth":1.7},
    "encoding":{
     "x":{"field":"dose","type":"quantitative","scale":{"domain":[0,80],"nice":false},"axis":{"orient":"bottom","title":"Dose [CGE]","values":[0,2.5,5,7.5,10,12.5,15,17.5,20,22.5,25,27.5,30,32.5,35,37.5,40,42.5,45,47.5,50,52.5,55,57.5,60,62.5,65,67.5,70,72.5,75,77.5,80],"labelExpr":"datum.value % 5 === 0 ? datum.label : ''"}},
     "y":{"field":"vol","type":"quantitative","scale":{"domain":[0,100],"nice":false},"axis":{"orient":"left","title":"Volume [%]","values":[0,5,10,15,20,25,30,35,40,45,50,55,60,65,70,75,80,85,90,95,100],"labelExpr":"datum.value % 10 === 0 ? datum.label : ''"}},
     "color":{"field":"organ","type":"nominal","scale":{"domain":["RT Opt. TR","RT Opt. NRV"],"range":["#1414e6","#ee1515"]},"legend":null},
     "strokeDash":{"field":"plan","type":"nominal","scale":{"domain":["3DCPT","IMPT"],"range":[[1,0],[4,2]]},"legend":{"orient":"none","legendX":256,"legendY":4,"symbolType":"stroke","symbolStrokeColor":"#111","symbolStrokeWidth":1.8,"symbolSize":330,"rowPadding":0,"labelOffset":8}}
    }},
   {"data":{"name":"c_arr"},"mark":{"type":"rule","color":"#222","strokeWidth":0.8},
    "encoding":{"x":{"field":"x","type":"quantitative","scale":{"domain":[0,80],"nice":false},"axis":null},"y":{"field":"y","type":"quantitative","scale":{"domain":[0,100],"nice":false},"axis":null},"x2":{"field":"x2"},"y2":{"field":"y2"}}},
   {"data":{"name":"c_txt"},"mark":{"type":"text"},
    "encoding":{"x":{"field":"x","type":"quantitative","scale":{"domain":[0,80],"nice":false},"axis":{"orient":"top","labels":false,"title":null,"values":[0,2.5,5,7.5,10,12.5,15,17.5,20,22.5,25,27.5,30,32.5,35,37.5,40,42.5,45,47.5,50,52.5,55,57.5,60,62.5,65,67.5,70,72.5,75,77.5,80]}},"y":{"field":"y","type":"quantitative","scale":{"domain":[0,100],"nice":false},"axis":{"orient":"right","labels":false,"title":null,"values":[0,5,10,15,20,25,30,35,40,45,50,55,60,65,70,75,80,85,90,95,100]}},"text":{"field":"t"}}}
  ]},
 {"width":323,"height":254,"title":{"text":"(d)"},
  "data":{"name":"d"},
  "layer":[
   {"mark":{"type":"rule","strokeDash":[3,2],"color":"#555","strokeWidth":0.8},
    "encoding":{"x":{"field":"idx","type":"quantitative","scale":{"domain":[0,7.446],"nice":false},"axis":null},
     "y":{"field":"3DCPT","type":"quantitative","scale":{"domain":[10,70],"nice":false},"axis":{"orient":"left","title":"Mean Dose [CGE]","titlePadding":15,"values":[10,15,20,25,30,35,40,45,50,55,60,65,70]}},
     "y2":{"field":"IMPT"}}},
   {"mark":{"type":"point","shape":"triangle-down","filled":true,"color":"#222","size":14,"yOffset":-7,"opacity":1},
    "encoding":{"x":{"field":"idx","type":"quantitative","scale":{"domain":[0,7.446],"nice":false},"axis":null},
     "y":{"field":"IMPT","type":"quantitative","scale":{"domain":[10,70],"nice":false},"axis":null}}},
   {"transform":[{"fold":["3DCPT","IMPT"],"as":["plan","dose"]}],
    "mark":{"type":"point","filled":true,"opacity":1,"size":95},
    "encoding":{"x":{"field":"idx","type":"quantitative","scale":{"domain":[0,7.446],"nice":false},"axis":null},
     "y":{"field":"dose","type":"quantitative","scale":{"domain":[10,70],"nice":false},"axis":null},
     "color":{"field":"plan","type":"nominal","scale":{"domain":["3DCPT","IMPT"],"range":["#0a0aee","#ee0a0a"]},"legend":{"orient":"bottom-left","offset":6,"padding":6,"strokeColor":"#222","fillColor":"white","symbolSize":110,"labelFontSize":12.5,"rowPadding":4,"labelOffset":10}},
     "shape":{"field":"plan","type":"nominal","scale":{"domain":["3DCPT","IMPT"],"range":["circle","diamond"]},"legend":{"orient":"bottom-left","offset":6,"padding":6,"strokeColor":"#222","fillColor":"white","symbolSize":110,"labelFontSize":12.5,"rowPadding":4,"labelOffset":10}}}},
   {"mark":{"type":"text","dy":-14,"baseline":"middle"},
    "encoding":{"x":{"field":"idx","type":"quantitative","scale":{"domain":[0,7.446],"nice":false},"axis":null},
     "y":{"field":"3DCPT","type":"quantitative","scale":{"domain":[10,70],"nice":false},"axis":{"orient":"right","title":null,"values":[10,15,20,25,30,35,40,45,50,55,60,65,70]}},
     "text":{"field":"organ"}}},
   {"transform":[{"calculate":"(datum['3DCPT'] + datum['IMPT']) / 2","as":"mid"}],
    "mark":{"type":"text","align":"left","dx":3,"baseline":"middle"},
    "encoding":{"x":{"field":"idx","type":"quantitative","scale":{"domain":[0,7.446],"nice":false},"axis":null},
     "y":{"field":"mid","type":"quantitative","scale":{"domain":[10,70],"nice":false},"axis":null},
     "text":{"field":"diff"}}}
  ]}
 ],"spacing":19,
 "resolve":{"scale":{"color":"independent","strokeDash":"independent","shape":"independent"},"legend":{"color":"independent","strokeDash":"independent","shape":"independent"}}}
],
"spacing":3
}
